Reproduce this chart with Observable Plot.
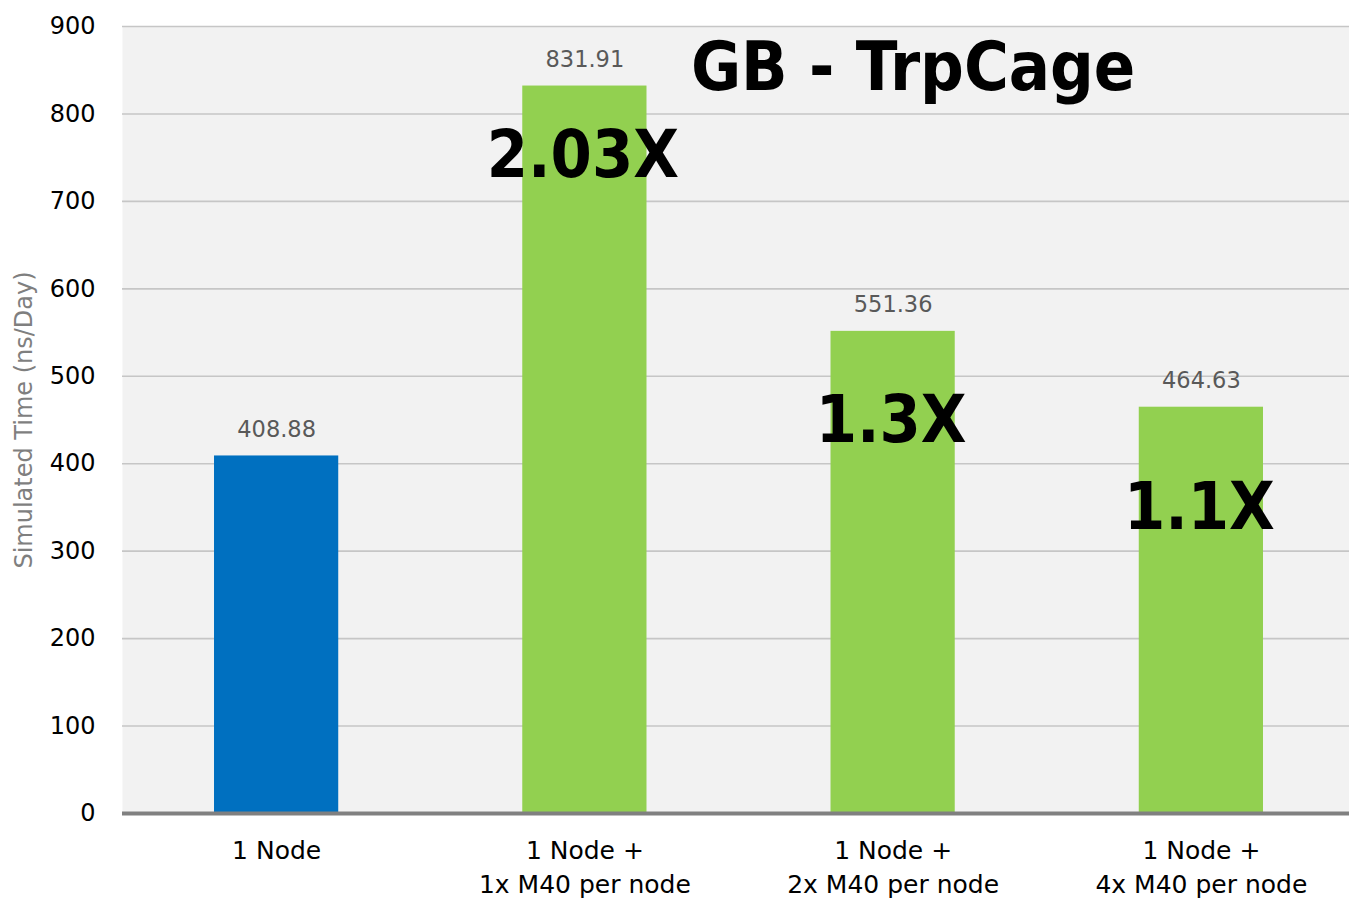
<!DOCTYPE html>
<html>
<head>
<meta charset="utf-8">
<script src="https://cdn.jsdelivr.net/npm/d3@7"></script>
<script src="https://cdn.jsdelivr.net/npm/@observablehq/plot@0.6"></script>
<style>
  html, body { margin: 0; padding: 0; background: #fff; overflow: hidden; }
  #chart svg { display: block; max-width: none !important; font-family: "DejaVu Sans", sans-serif; }
  #chart svg .big text, #chart svg text.big { font-family: "DejaVu Sans Condensed", "DejaVu Sans", sans-serif; font-stretch: condensed; }
</style>
</head>
<body>
<div id="chart"></div>
<script>
const categories = [
  "1 Node",
  "1 Node +\n1x M40 per node",
  "1 Node +\n2x M40 per node",
  "1 Node +\n4x M40 per node"
];
const values = [408.88, 831.91, 551.36, 464.63];
const valueLabels = ["408.88", "831.91", "551.36", "464.63"];
const seriesKind = ["cpu", "gpu", "gpu", "gpu"];
const speedupLabels = ["2.03X", "1.3X", "1.1X"];
const speedupCategories = [categories[1], categories[2], categories[3]];
const speedupAt = [752, 449, 349];
const yTicks = [0, 100, 200, 300, 400, 500, 600, 700, 800, 900];
const titleText = "GB - TrpCage";
const yLabel = "Simulated Time (ns/Day)";

const bars = categories.map((c, i) => ({cat: c, value: values[i], label: valueLabels[i], kind: seriesKind[i]}));
const speedups = speedupLabels.map((t, i) => ({cat: speedupCategories[i], y: speedupAt[i], text: t}));

const chart = Plot.plot({
  width: 1355,
  height: 898,
  marginLeft: 122,
  marginRight: 0,
  marginTop: 26,
  marginBottom: 85,
  x: {domain: categories, paddingInner: 0.597, paddingOuter: 0.2985, round: false, axis: null},
  y: {domain: [0, 900], axis: null},
  color: {domain: ["cpu", "gpu"], range: ["#0070c0", "#92d050"]},
  marks: [
    Plot.frame({fill: "#f2f2f2", stroke: null}),
    Plot.gridY(yTicks.filter(d => d > 0), {stroke: "#c6c6c6", strokeOpacity: 1, strokeWidth: 1.6}),
    Plot.barY(bars, {x: "cat", y: "value", fill: "kind"}),
    Plot.ruleY([0], {stroke: "#808080", strokeWidth: 4}),
    Plot.axisY({ticks: yTicks, tickSize: 0, tickPadding: 27, fontSize: 24, label: null, fill: "#000"}),
    Plot.axisX({tickSize: 0, tickPadding: 21, fontSize: 25, lineHeight: 1.36, label: null, fill: "#000"}),
    Plot.text(bars, {x: "cat", y: "value", text: "label", dy: -19, lineAnchor: "bottom", fontSize: 22.5, fill: "#595959"}),
    Plot.text(speedups, {x: "cat", y: "y", text: "text", fontSize: 66, fontWeight: "bold", fill: "#000", className: "big", dx: -2}),
    Plot.text([titleText], {x: [categories[2]], y: [852], fontSize: 68, fontWeight: "bold", fill: "#000", dx: 20, className: "big"}),
    Plot.text([yLabel], {frameAnchor: "left", textAnchor: "middle", rotate: -90, dx: -98, fontSize: 24, fill: "#7f7f7f"})
  ]
});
document.getElementById("chart").appendChild(chart);
</script>
</body>
</html>
